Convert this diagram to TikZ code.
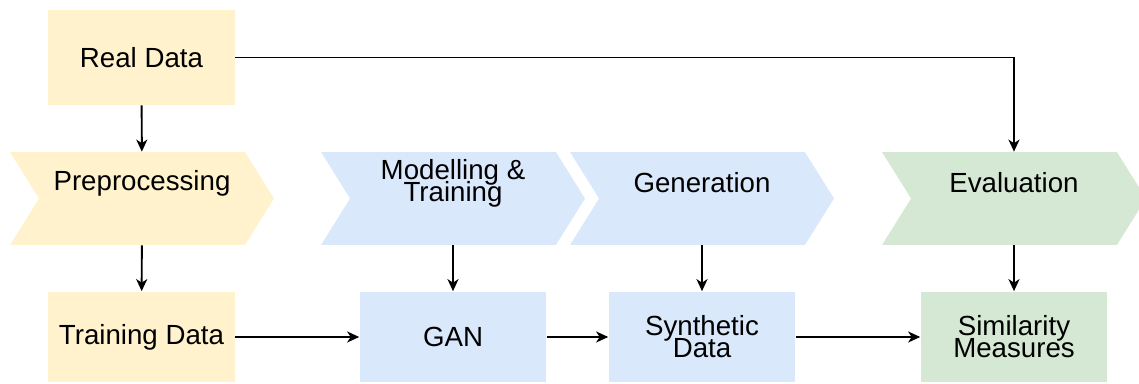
\documentclass[tikz,border=0pt]{standalone}
\usepackage{fontspec}
\setmainfont{Liberation Sans}
\usetikzlibrary{shapes.symbols,arrows.meta}

\definecolor{yellowfill}{HTML}{FFF2CC}
\definecolor{bluefill}{HTML}{DAE8FC}
\definecolor{greenfill}{HTML}{D5E8D4}
\newcommand{\lblfont}{\fontsize{15.75}{12.5}\selectfont\lineskiplimit=-20pt}

\begin{document}
\begin{tikzpicture}[x=0.02cm,y=0.02cm,
    box/.style={rectangle,minimum width=3.74cm,minimum height=1.82cm,inner sep=0pt,align=center,font=\lblfont},
    chev/.style={signal,signal from=west,signal to=east,signal pointer angle=116,
      minimum width=5.28cm,minimum height=1.86cm,inner sep=0pt},
    chevtext/.style={align=center,font=\lblfont},
    flow/.style={-{Stealth[length=2.4mm,width=2.2mm,inset=0.7mm]},line width=1.1pt}]
    \useasboundingbox (0,0) rectangle (1139,383);

    % phases
    \foreach \n/\x/\c/\t in {prep/142/yellowfill/Preprocessing,
                             model/453/bluefill/{Modelling \&\\Training},
                             gen/702/bluefill/Generation,
                             eval/1014/greenfill/Evaluation}
    {
      \node[chev,fill=\c] (\n) at (\x,184.5) {};
      \node[chevtext] (\n-text) at ([yshift=0.31cm]\n.center) {\t};
    }

    % data
    \node[box,fill=yellowfill,minimum height=1.9cm] (real) at (141.5,325.5) {Real Data};
    \node[box,fill=yellowfill] (train) at (141.5,46) {Training Data};
    \node[box,fill=bluefill] (gan) at (453,46) {GAN};
    \node[box,fill=bluefill] (syn) at (702,46) {Synthetic\\Data};
    \node[box,fill=greenfill] (sim) at (1014,46) {Similarity\\Measures};

    \foreach \a/\b in {real/prep, prep/train, model/gan, gen/syn, eval/sim, train/gan, gan/syn, syn/sim}
      \draw[flow] (\a) -- (\b);
    \draw[flow] (real.east) -| (eval.north);
\end{tikzpicture}
\end{document}
